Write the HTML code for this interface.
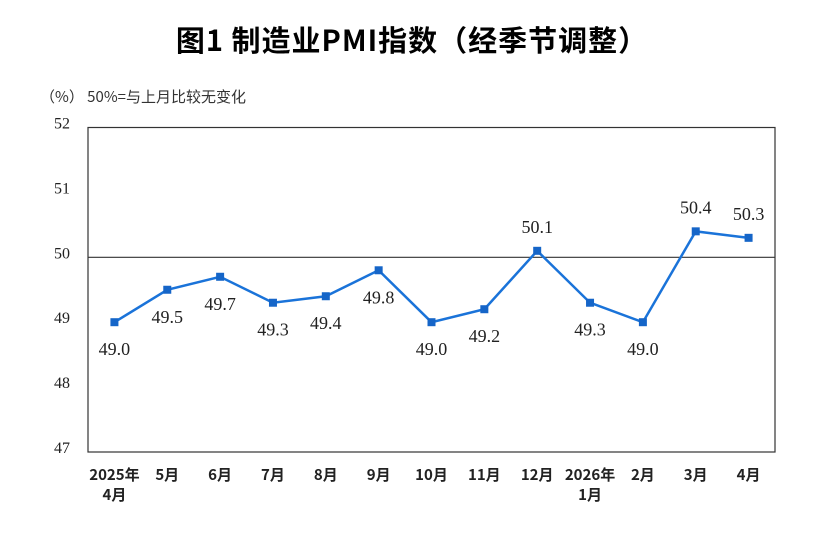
<!DOCTYPE html>
<html><head><meta charset="utf-8"><style>
body{margin:0;background:#fff;width:815px;height:535px;overflow:hidden}
svg{display:block}
.t{font-family:"Noto Sans CJK SC","Liberation Sans",sans-serif}
.s{font-family:"Liberation Serif","Noto Serif CJK SC",serif}
</style></head><body>
<svg id="c" width="815" height="535">
<text x="412" y="51" text-anchor="middle" class="t" font-size="29" font-weight="bold" fill="#000" letter-spacing="1">图1 制造业PMI指数（经季节调整）</text>
<text x="40" y="102" class="t" font-size="15" fill="#333">（%） 50%=与上月比较无变化</text>
<rect x="88" y="127.5" width="687" height="324.5" fill="none" stroke="#333" stroke-width="1.2"/>
</svg>
<script>
const categories=[["2025年","4月"],["5月"],["6月"],["7月"],["8月"],["9月"],["10月"],["11月"],["12月"],["2026年","1月"],["2月"],["3月"],["4月"]];
const values=[49.0,49.5,49.7,49.3,49.4,49.8,49.0,49.2,50.1,49.3,49.0,50.4,50.3];
const yTicks=[47,48,49,50,51,52];
const NS="http://www.w3.org/2000/svg";
const svg=document.getElementById('c');
const L=88,R=775,T=127.5,B=452;
const y=v=>B-(v-47)/(52-47)*(B-T);
const bw=(R-L)/categories.length;
const x=i=>L+bw*(i+0.5);
function mk(tag,attrs,text){const e=document.createElementNS(NS,tag);for(const k in attrs)e.setAttribute(k,attrs[k]);if(text!==undefined)e.textContent=text;svg.appendChild(e);return e;}
yTicks.forEach(t=>{
 const e=mk('text',{x:70,y:y(t)+1,'text-anchor':'end','class':'s','font-size':'16',fill:'#222'},String(t));
 
 
});
const ref=mk('line',{x1:L,x2:R,y1:y(50),y2:y(50),stroke:'#333','stroke-width':1.2});


categories.forEach((c,i)=>{
 c.forEach((s,j)=>{
  const e=mk('text',{x:x(i),y:480+j*20,'text-anchor':'middle','class':'t','font-size':'15','font-weight':'bold',fill:'#222'},s);
  
  
 });
});
const pl=mk('polyline',{points:values.map((v,i)=>x(i)+','+y(v)).join(' '),fill:'none',stroke:'#1a73d9','stroke-width':2.5});


values.forEach((v,i)=>{
 const m=mk('rect',{x:x(i)-4,y:y(v)-4,width:8,height:8,fill:'#1565c8'});
 
 
 const above=v>=50;
 const lb=mk('text',{x:x(i),y:above?y(v)-18:y(v)+33,'text-anchor':'middle','class':'s','font-size':'18',fill:'#222'},v.toFixed(1));
 
 
});
</script>
</body></html>
